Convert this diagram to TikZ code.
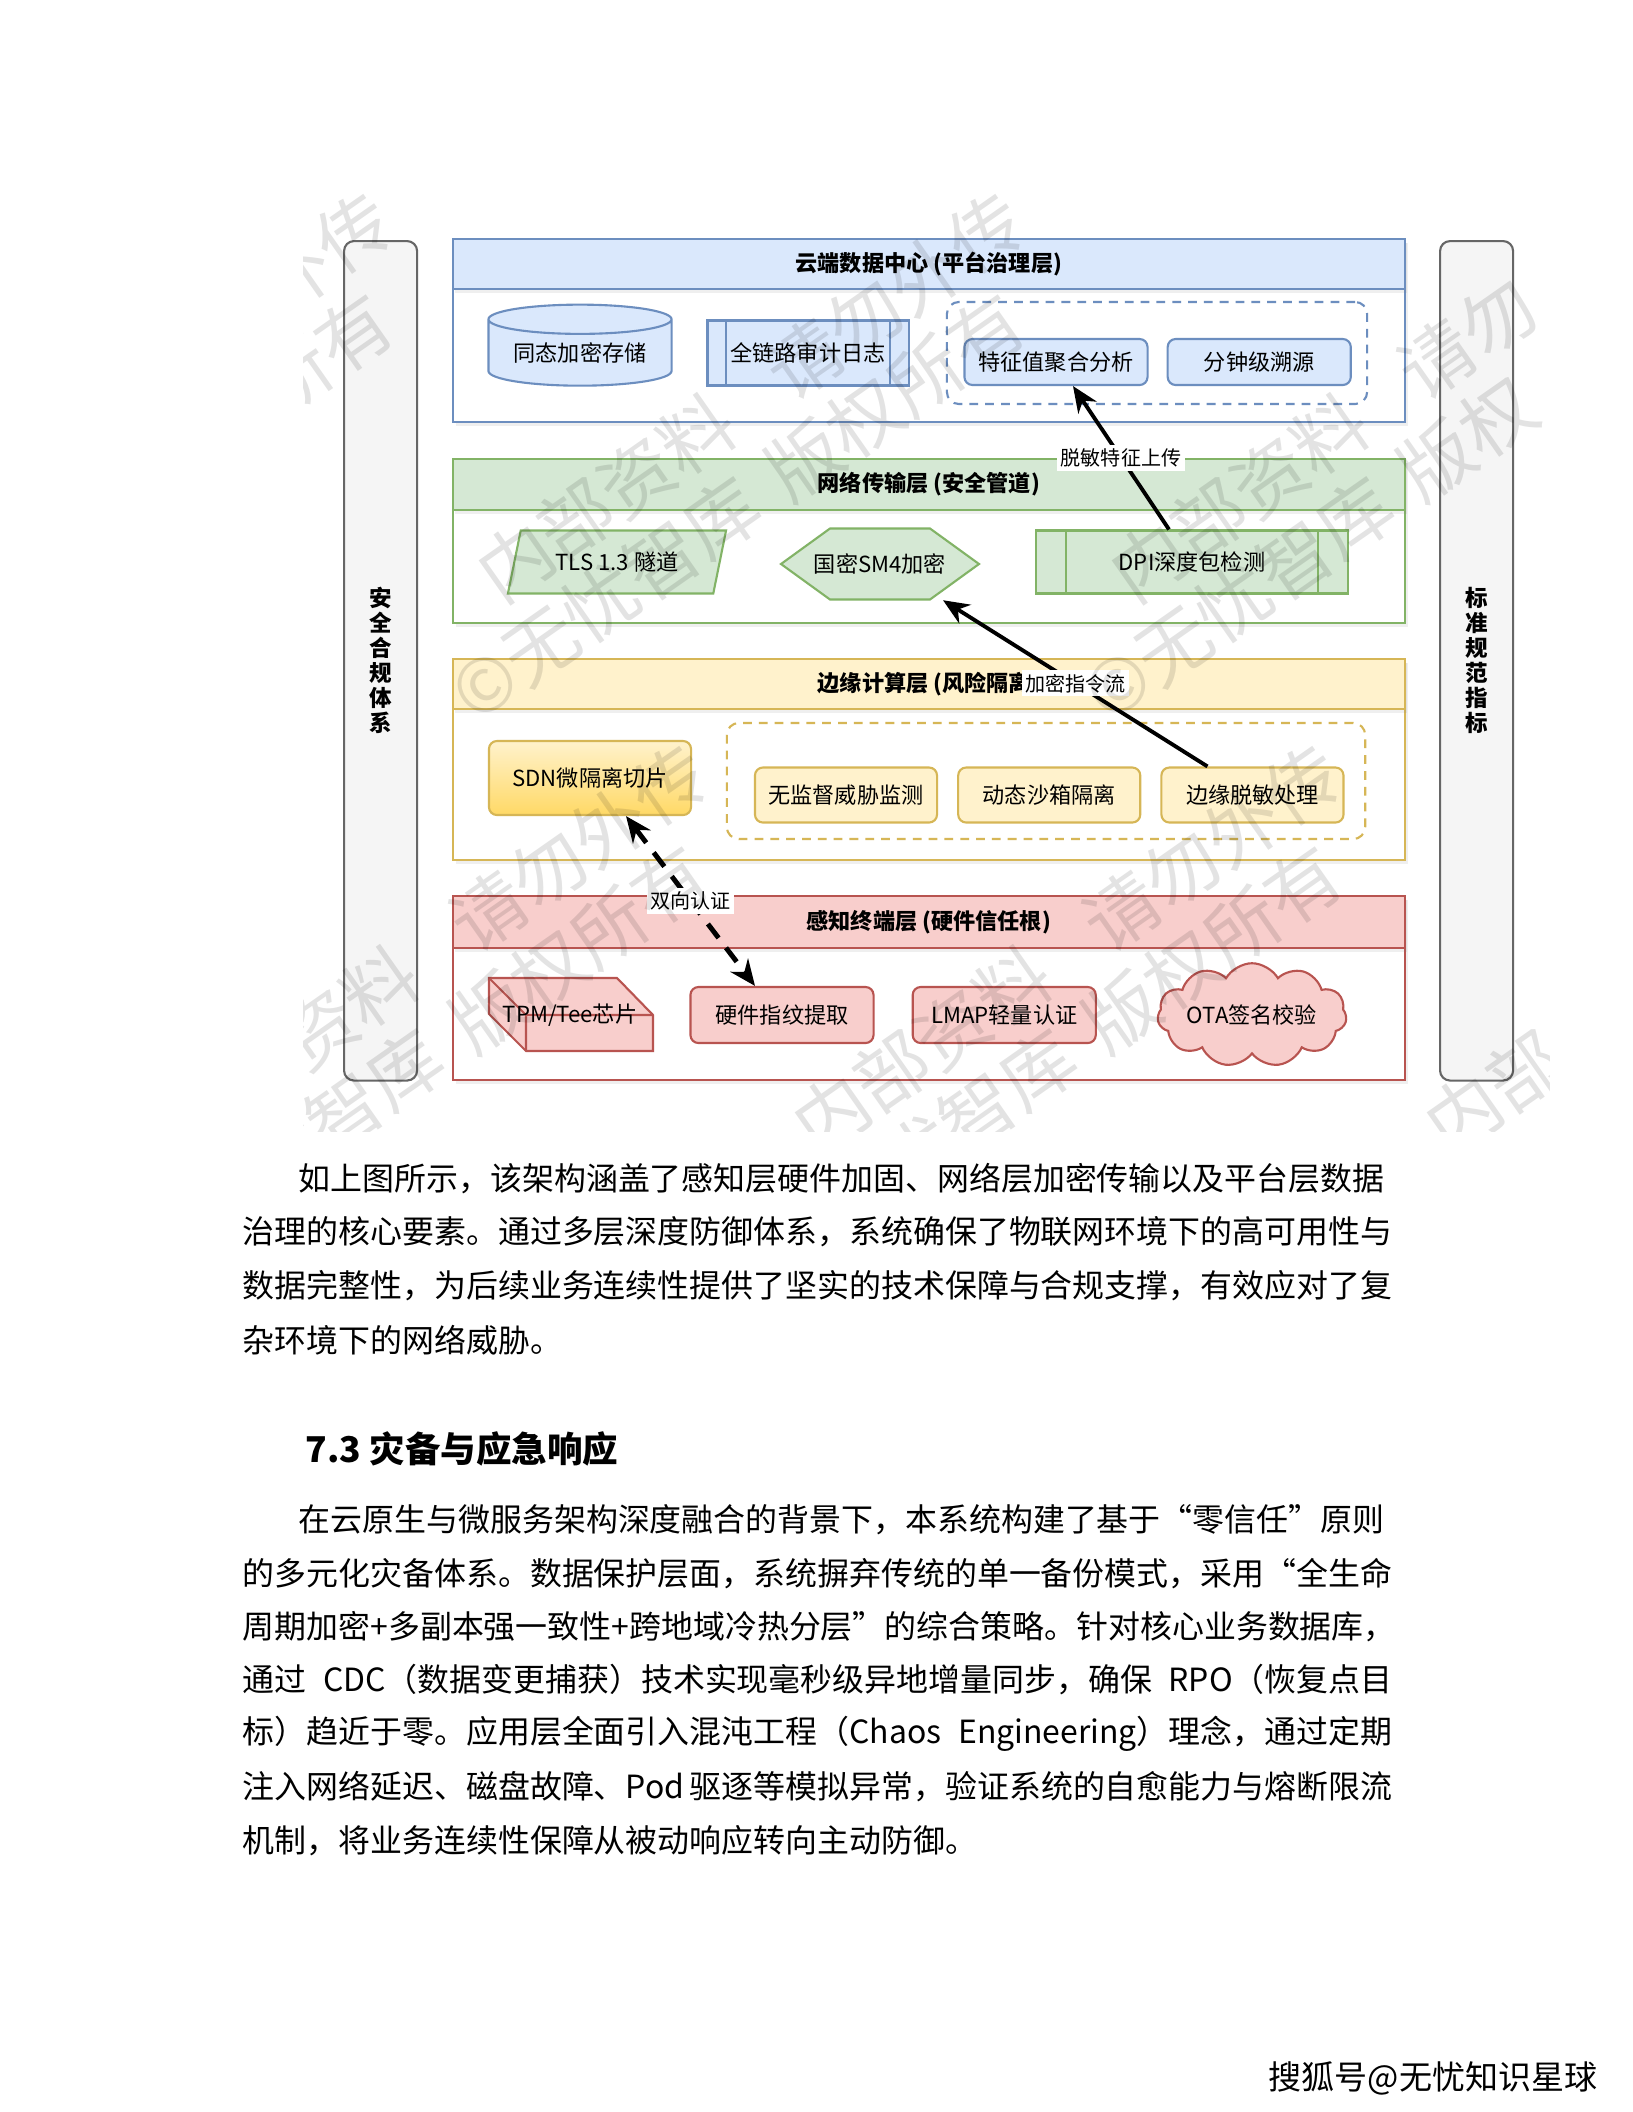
\documentclass[tikz,border=0pt]{standalone}
\usepackage{fontspec}
\setmainfont{Noto Sans CJK SC}
\usetikzlibrary{shapes.geometric,shapes.symbols,arrows.meta,positioning,calc,shadows}
\definecolor{bluefill}{HTML}{DAE8FC}
\definecolor{bluedraw}{HTML}{6C8EBF}
\definecolor{greenfill}{HTML}{D5E8D4}
\definecolor{greendraw}{HTML}{82B366}
\definecolor{yellowfill}{HTML}{FFF2CC}
\definecolor{yellowdraw}{HTML}{D6B656}
\definecolor{goldfill}{HTML}{FFD966}
\definecolor{redfill}{HTML}{F8CECC}
\definecolor{reddraw}{HTML}{B85450}
\definecolor{barfill}{HTML}{F5F5F5}
\definecolor{bardraw}{HTML}{666666}
% glue between CJK characters, so that a text line can be spread to its width
\XeTeXinterchartoks 1 1 = {\hskip 0pt plus 0.5em\relax}
\XeTeXinterchartoks 1 2 = {\hskip 0pt plus 0.5em\relax}
\XeTeXinterchartoks 1 3 = {\hskip 0pt plus 0.5em\relax}
\XeTeXinterchartoks 3 1 = {\hskip 0pt plus 0.5em\relax}
\XeTeXinterchartoks 3 2 = {\hskip 0pt plus 0.5em\relax}
\XeTeXinterchartoks 2 1 = {\hskip 0pt plus 0.5em\relax}
\XeTeXinterchartoks 0 1 = {\hskip 0pt plus 0.5em\relax}
\XeTeXinterchartoks 1 0 = {\hskip 0pt plus 0.5em\relax}
\XeTeXinterchartoks 0 2 = {\hskip 0pt plus 0.5em\relax}
\XeTeXinterchartoks 3 0 = {\hskip 0pt plus 0.5em\relax}
\newcommand{\jline}[2]{\hbox to #1{\XeTeXinterchartokenstate=1 #2}}
\tikzset{
  lanebox/.style={rectangle, draw=#1, line width=0.6pt, fill=white, anchor=north west,
                  minimum width=9.51cm, inner sep=0pt,
                  drop shadow={shadow xshift=0.03cm, shadow yshift=-0.04cm, opacity=0.12}},
  lanehead/.style 2 args={rectangle, draw=#2, fill=#1, line width=0.6pt, anchor=north west,
                  minimum width=9.51cm, inner sep=0pt, font=\dfont\bfseries,
                  drop shadow={shadow xshift=0.02cm, shadow yshift=-0.04cm, opacity=0.12}},
  sidebar/.style={rectangle, rounded corners=0.1cm, draw=bardraw, fill=barfill, line width=0.6pt,
                  minimum width=0.73cm, minimum height=8.39cm, align=center, inner sep=0pt,
                  font={\fontsize{6.4}{7.1}\selectfont\bfseries}},
  item/.style={rectangle, rounded corners=0.08cm, draw=#1, line width=0.6pt, align=center,
               inner sep=1pt, font=\dfont},
  grp/.style={rectangle, rounded corners=0.12cm, draw=#1, dashed, dash pattern=on 2.5pt off 2pt,
              line width=0.6pt, inner sep=0pt},
  elbl/.style={fill=white, inner sep=1pt, font={\fontsize{5.7}{6.5}\selectfont}},
  ar/.style={-{Stealth[length=2.6mm,width=2.2mm]}, line width=1.1pt},
  arb/.style={{Stealth[length=2.6mm,width=2.2mm]}-{Stealth[length=2.6mm,width=2.2mm]},
              line width=1.4pt, dash pattern=on 5pt off 3.5pt},
  bodyline/.style={anchor=west, inner sep=0pt, font={\fontsize{9.08}{10}\selectfont}},
  wmark/.style={rotate=35, inner sep=0pt, text=black, opacity=0.11, font={\fontsize{21}{23}\selectfont}}
}
\newcommand{\dfont}{\fontsize{6.3}{7.6}\selectfont}

\begin{document}
\begin{tikzpicture}[x=0.01cm, y=-0.01cm]
\useasboundingbox (0,0) rectangle (1632,2112);
\fill[white] (0,0) rectangle (1632,2112);
% ---- side bars ----
\node[sidebar, anchor=north west] (compl) at (343,240) {安\\全\\合\\规\\体\\系};
\node[sidebar, anchor=north west] (norm) at (1439,240) {标\\准\\规\\范\\指\\标};
% ---- cloud layer ----
\node[lanebox=bluedraw, minimum height=1.83cm] (cloudL) at (452,238) {};
\node[lanehead={bluefill}{bluedraw}, minimum height=0.50cm] (cloudH) at (452,238) {云端数据中心 (平台治理层)};
\node[cylinder, shape border rotate=90, aspect=0.22, draw=bluedraw, fill=bluefill, line width=0.6pt,
      minimum width=1.83cm, minimum height=0.81cm, inner sep=0pt, font=\dfont] (hes) at (580,353) {同态加密存储};
\node[rectangle, draw=bluedraw, fill=bluefill, line width=0.6pt, minimum width=2.01cm, minimum height=0.65cm,
      inner sep=0pt, font=\dfont] (audit) at (808,353) {全链路审计日志};
\draw[bluedraw, line width=0.6pt] ([xshift=0.2cm]audit.north west) -- ([xshift=0.2cm]audit.south west);
\draw[bluedraw, line width=0.6pt] ([xshift=-0.2cm]audit.north east) -- ([xshift=-0.2cm]audit.south east);
\node[grp=bluedraw, minimum width=4.20cm, minimum height=1.02cm] (trgrp) at (1157,353) {};
\node[item=bluedraw, fill=bluefill, minimum width=1.83cm, minimum height=0.46cm] (feat) at (1056,362) {特征值聚合分析};
\node[item=bluedraw, fill=bluefill, minimum width=1.83cm, minimum height=0.46cm, right=0.18cm of feat] (trace) {分钟级溯源};
% ---- network layer ----
\node[lanebox=greendraw, minimum height=1.64cm] (netL) at (452,458) {};
\node[lanehead={greenfill}{greendraw}, minimum height=0.51cm] (netH) at (452,458) {网络传输层 (安全管道)};
\node[trapezium, trapezium left angle=58, trapezium right angle=122, trapezium stretches body,
      draw=greendraw, fill=greenfill, line width=0.6pt, minimum width=2.18cm, minimum height=0.63cm,
      inner sep=0pt, font=\dfont] (tls) at (617,562) {TLS 1.3 隧道};
\filldraw[fill=greenfill, draw=greendraw, line width=0.6pt] (781,564) -- (830,528.5) -- (930,528.5) -- (979,564) -- (930,599.5) -- (830,599.5) -- cycle;
\node[rectangle, minimum width=1.99cm, minimum height=0.71cm, inner sep=0pt, font=\dfont] (sm4) at (880,564) {国密SM4加密};
\node[rectangle, draw=greendraw, fill=greenfill, line width=0.6pt, minimum width=3.11cm, minimum height=0.63cm,
      inner sep=0pt, font=\dfont] (dpi) at (1192,562) {DPI深度包检测};
\draw[greendraw, line width=0.6pt] ([xshift=0.31cm]dpi.north west) -- ([xshift=0.31cm]dpi.south west);
\draw[greendraw, line width=0.6pt] ([xshift=-0.31cm]dpi.north east) -- ([xshift=-0.31cm]dpi.south east);
% ---- edge layer ----
\node[lanebox=yellowdraw, minimum height=2.01cm] (edgeL) at (452,658) {};
\node[lanehead={yellowfill}{yellowdraw}, minimum height=0.50cm] (edgeH) at (452,658) {边缘计算层 (风险隔离)};
\node[item=yellowdraw, top color=yellowfill, bottom color=goldfill, minimum width=2.02cm, minimum height=0.74cm] (sdn) at (590,778) {SDN微隔离切片};
\node[grp=yellowdraw, minimum width=6.38cm, minimum height=1.16cm] (isogrp) at (1046,781) {};
\node[item=yellowdraw, fill=yellowfill, minimum width=1.82cm, minimum height=0.55cm] (ueba) at (846,795) {无监督威胁监测};
\node[item=yellowdraw, fill=yellowfill, minimum width=1.82cm, minimum height=0.55cm, right=0.19cm of ueba] (sbox) {动态沙箱隔离};
\node[item=yellowdraw, fill=yellowfill, minimum width=1.82cm, minimum height=0.55cm, right=0.19cm of sbox] (desens) {边缘脱敏处理};
% ---- sensing layer ----
\node[lanebox=reddraw, minimum height=1.84cm] (senseL) at (452,895) {};
\node[lanehead={redfill}{reddraw}, minimum height=0.52cm] (senseH) at (452,895) {感知终端层 (硬件信任根)};
\filldraw[fill=redfill, draw=reddraw, line width=0.6pt] (489,978) -- (617,978) -- (653,1015) -- (653,1051) -- (526,1051) -- (489,1014) -- cycle;
\draw[reddraw, line width=0.6pt] (489,978) -- (526,1015) -- (653,1015) (526,1015) -- (526,1051);
\node[font=\dfont, inner sep=0pt] (tpm) at (570,1015) {TPM/Tee芯片};
\node[item=reddraw, fill=redfill, minimum width=1.83cm, minimum height=0.56cm] (hwfp) at (782,1015) {硬件指纹提取};
\node[item=reddraw, fill=redfill, minimum width=1.83cm, minimum height=0.56cm, right=0.37cm of hwfp] (lmap) {LMAP轻量认证};
\node[cloud, cloud puffs=11, cloud puff arc=120, aspect=2.4, draw=reddraw, fill=redfill, line width=0.6pt,
      minimum width=1.81cm, minimum height=0.78cm, inner sep=0pt, font=\dfont] (ota) at (1252,1015) {OTA签名校验};
% ---- flows ----
\draw[ar] ($(dpi.north)+(-23,0)$) -- node[elbl] {脱敏特征上传} ($(feat.south)+(17,0)$);
\draw[ar] ($(desens.north)+(-45,0)$) -- node[elbl] {加密指令流} ($(sm4.south)+(63,0)$);
\draw[arb] ($(sdn.south)+(36,0)$) -- node[elbl] {双向认证} ($(hwfp.north)+(-27,0)$);
% ---- watermark ----
\begin{scope}
\clip (303,188) rectangle (1549,1131);
\foreach \wx/\wy/\wt [count=\i] in {263/296/请勿外传, 263/397/版权所有,
    606/498/内部资料, 895/296/请勿外传, 606/599/©无忧智库, 895/397/版权所有,
    1239/498/内部资料, 1467/338/请勿, 1239/599/©无忧智库, 1467/439/版权,
    289/1050/内部资料, 579/848/请勿外传, 289/1151/©无忧智库, 579/949/版权所有,
    922/1050/内部资料, 1212/848/请勿外传, 922/1151/©无忧智库, 1212/949/版权所有,
    1494/1092/内部}
  \node[wmark] (wm\i) at (\wx,\wy) {\wt};
\end{scope}
% ---- text below ----
\node[bodyline] (p1a) at (298,1179) {\jline{10.93cm}{如上图所示，该架构涵盖了感知层硬件加固、网络层加密传输以及平台层数据}};
\node[bodyline] (p1b) at (242,1232) {\jline{11.49cm}{治理的核心要素。通过多层深度防御体系，系统确保了物联网环境下的高可用性与}};
\node[bodyline] (p1c) at (242,1286) {\jline{11.49cm}{数据完整性，为后续业务连续性提供了坚实的技术保障与合规支撑，有效应对了复}};
\node[bodyline] (p1d) at (242,1340) {杂环境下的网络威胁。};
\node[anchor=west, inner sep=0pt, font={\fontsize{10.1}{12}\selectfont\bfseries}] (sec) at (305,1449) {7.3 灾备与应急响应};
\node[bodyline] (p2a) at (298,1520) {\jline{10.93cm}{在云原生与微服务架构深度融合的背景下，本系统构建了基于“零信任”原则}};
\node[bodyline] (p2b) at (242,1574) {\jline{11.49cm}{的多元化灾备体系。数据保护层面，系统摒弃传统的单一备份模式，采用“全生命}};
\node[bodyline] (p2c) at (242,1627) {\jline{11.49cm}{周期加密+多副本强一致性+跨地域冷热分层”的综合策略。针对核心业务数据库，}};
\node[bodyline] (p2d) at (242,1680) {\jline{11.49cm}{通过 CDC（数据变更捕获）技术实现毫秒级异地增量同步，确保 RPO（恢复点目}};
\node[bodyline] (p2e) at (242,1734) {\jline{11.49cm}{标）趋近于零。应用层全面引入混沌工程（Chaos Engineering）理念，通过定期}};
\node[bodyline] (p2f) at (242,1787) {\jline{11.49cm}{注入网络延迟、磁盘故障、Pod 驱逐等模拟异常，验证系统的自愈能力与熔断限流}};
\node[bodyline] (p2g) at (242,1841) {机制，将业务连续性保障从被动响应转向主动防御。};
\node[anchor=center, inner sep=0pt, font={\fontsize{9.4}{11}\selectfont}] (src) at (1433,2078) {搜狐号@无忧知识星球};
\end{tikzpicture}
\end{document}
